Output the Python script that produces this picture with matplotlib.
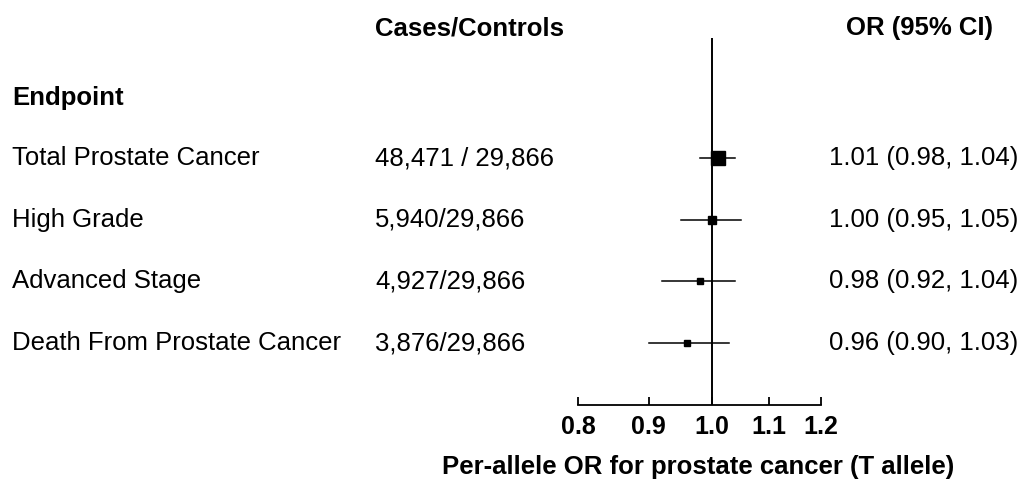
import numpy as np
import matplotlib.pyplot as plt
import matplotlib.transforms as mtransforms

plt.rcParams['font.family'] = ['Liberation Sans', 'DejaVu Sans']

endpoints = ['Total Prostate Cancer', 'High Grade', 'Advanced Stage', 'Death From Prostate Cancer']
cases = ['48,471 / 29,866', '5,940/29,866', '4,927/29,866', '3,876/29,866']
odds = [1.01, 1.00, 0.98, 0.96]
lower = [0.98, 0.95, 0.92, 0.90]
upper = [1.04, 1.05, 1.04, 1.03]
ticks = [0.8, 0.9, 1.0, 1.1, 1.2]

# box size per row (largest study gets the biggest box)
box_sizes = [10.5, 5.3, 5.0, 4.7]

fig = plt.figure(figsize=(10.22, 4.79), dpi=100)
W, H = 1022, 479
ax = fig.add_axes([578 / W, 1 - 405 / H, (821 - 578) / W, (405 - 38) / H])

rows = np.arange(len(endpoints))
ax.set_xscale('log')
ax.set_xlim(0.8, 1.2)
ax.set_ylim(4.005, -1.946)

ax.axvline(1.0, color='black', lw=1.4, zorder=1)
for i in rows:
    ax.plot([lower[i], upper[i]], [i, i], color='black', lw=1.1, zorder=2)
    ax.plot(odds[i], i, marker='s', color='black', ms=box_sizes[i], zorder=3)

for s in ['top', 'right', 'left']:
    ax.spines[s].set_visible(False)
ax.spines['bottom'].set_linewidth(1.3)
ax.set_yticks([])
ax.set_xticks(ticks)
ax.set_xticklabels([f'{t:.1f}' for t in ticks], fontsize=18, fontweight='bold')
ax.xaxis.set_minor_locator(plt.NullLocator())
ax.tick_params(axis='x', direction='in', length=6, width=1.3, pad=7)
ax.set_xlabel('Per-allele OR for prostate cancer (T allele)', fontsize=18.5, fontweight='bold')
ax.xaxis.set_label_coords((698 - 578) / (821 - 578), -0.135)

# text columns: figure x, data y
trans = mtransforms.blended_transform_factory(fig.transFigure, ax.transData)
fs = 18.5
for i in rows:
    fig.text(12 / W, i, endpoints[i], transform=trans, fontsize=fs, va='center', ha='left')
    fig.text(375 / W, i, cases[i], transform=trans, fontsize=fs, va='center', ha='left')
    fig.text(1018 / W, i, f'{odds[i]:.2f} ({lower[i]:.2f}, {upper[i]:.2f})',
             transform=trans, fontsize=fs, va='center', ha='right')

fig.text(12 / W, -0.98, 'Endpoint', transform=trans, fontsize=fs, va='center', ha='left', fontweight='bold')
fig.text(375 / W, 1 - 28 / H, 'Cases/Controls', fontsize=fs, va='center', ha='left', fontweight='bold')
fig.text(919 / W, 1 - 28 / H, 'OR (95% CI)', fontsize=fs, va='center', ha='center', fontweight='bold')

fig.savefig('out.png', dpi=100)
